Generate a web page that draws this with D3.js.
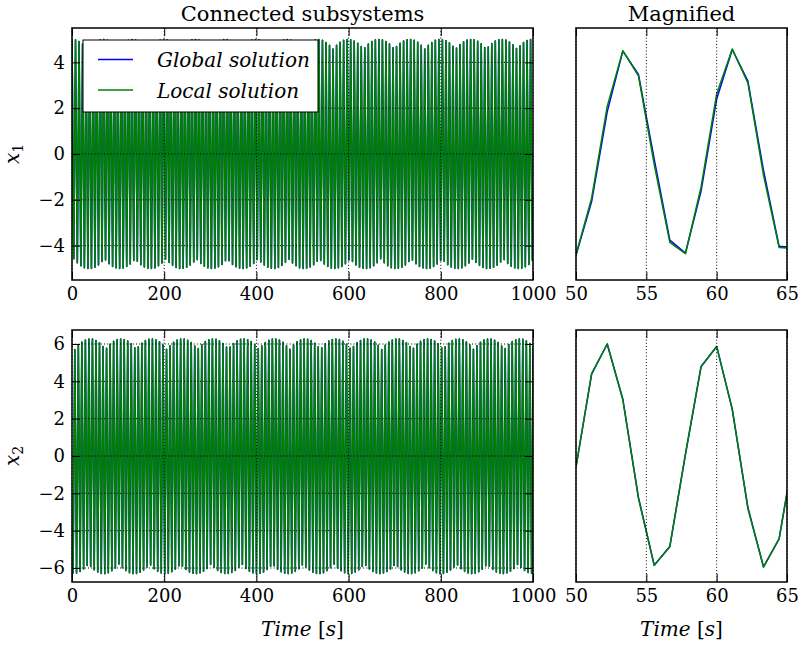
<!DOCTYPE html>
<html><head><meta charset="utf-8">
<script src="https://cdn.jsdelivr.net/npm/d3@7"></script>
<style>
body{margin:0;background:#fff;}
svg{display:block;}
text{font-family:"DejaVu Serif",serif;fill:#000;}
</style></head><body>
<svg id="chart" width="798" height="647"></svg>
<script>
// ---------- data ----------
const cyclePeriod = 7.652;          // seconds between successive peaks
const x1PeakStart = 0.0, x1TroughStart = 3.9;
const x2PeakStart = 6.1, x2TroughStart = 2.25;

const x1Peaks = [
5.00,4.98,4.91,4.80,4.64,4.69,4.83,4.93,4.99,5.00,
4.96,4.88,4.75,4.58,4.74,4.87,4.96,5.00,4.99,4.94,
4.85,4.70,4.62,4.78,4.90,4.97,5.00,4.98,4.92,4.81,
4.65,4.67,4.82,4.93,4.99,5.00,4.97,4.89,4.77,4.60,
4.72,4.86,4.95,5.00,5.00,4.95,4.86,4.72,4.60,4.77,
4.89,4.97,5.00,4.99,4.93,4.82,4.67,4.65,4.81,4.92,
4.98,5.00,4.97,4.90,4.78,4.62,4.70,4.85,4.94,4.99,
5.00,4.96,4.87,4.74,4.58,4.75,4.88,4.96,5.00,4.99,
4.93,4.83,4.69,4.64,4.80,4.91,4.98,
5.00,4.98,4.91,4.80,4.64,4.69,4.83,4.93,4.99,5.00,
4.96,4.88,4.75,4.58,4.74,4.87,4.96,5.00,4.99,4.94,
4.85,4.70,4.62,4.78,4.90,4.97,5.00,4.98,4.92,4.81,
4.65,4.67,4.82,4.93,4.99,5.00,4.97,4.89,4.77,4.60,
4.72,4.86,4.95,5.00];
const x1Troughs = [
-4.57,-4.75,-4.88,-4.96,-5.00,-4.99,-4.94,-4.84,-4.69,-4.63,
-4.79,-4.91,-4.97,-5.00,-4.98,-4.91,-4.80,-4.65,-4.68,-4.83,
-4.93,-4.99,-5.00,-4.97,-4.88,-4.76,-4.59,-4.73,-4.86,-4.95,
-5.00,-4.99,-4.94,-4.85,-4.71,-4.61,-4.78,-4.90,-4.97,-5.00,
-4.98,-4.92,-4.82,-4.66,-4.66,-4.82,-4.92,-4.98,-5.00,-4.97,
-4.90,-4.78,-4.61,-4.71,-4.85,-4.94,-4.99,-5.00,-4.95,-4.86,
-4.73,-4.59,-4.76,-4.88,-4.97,-5.00,-4.99,-4.93,-4.83,-4.68,
-4.65,-4.80,-4.91,-4.98,-5.00,-4.97,-4.91,-4.79,-4.63,-4.69,
-4.84,-4.94,-4.99,-5.00,-4.96,-4.88,-4.75,
-4.57,-4.75,-4.88,-4.96,-5.00,-4.99,-4.94,-4.84,-4.69,-4.63,
-4.79,-4.91,-4.97,-5.00,-4.98,-4.91,-4.80,-4.65,-4.68,-4.83,
-4.93,-4.99,-5.00,-4.97,-4.88,-4.76,-4.59,-4.73,-4.86,-4.95,
-5.00,-4.99,-4.94,-4.85,-4.71,-4.61,-4.78,-4.90,-4.97,-5.00,
-4.98,-4.92,-4.82,-4.66];
const x2Peaks = [
5.70,5.93,6.10,6.21,6.26,6.26,6.19,6.06,5.87,5.77,
5.99,6.14,6.24,6.27,6.24,6.16,6.01,5.80,5.85,6.04,
6.18,6.25,6.27,6.22,6.12,5.95,5.72,5.91,6.09,6.21,
6.26,6.26,6.20,6.08,5.89,5.75,5.97,6.13,6.23,6.27,
6.25,6.17,6.02,5.83,5.83,6.02,6.17,6.25,6.27,6.23,
6.13,5.97,5.75,5.89,6.08,6.20,6.26,6.26,6.21,6.09,
5.91,5.72,5.95,6.12,6.22,6.27,6.25,6.18,6.04,5.85,
5.80,6.01,6.16,6.24,6.27,6.24,6.14,5.99,5.77,5.87,
6.06,6.19,6.26,6.26,6.21,6.10,5.93,
5.70,5.93,6.10,6.21,6.26,6.26,6.19,6.06,5.87,5.77,
5.99,6.14,6.24,6.27,6.24,6.16,6.01,5.80,5.85,6.04,
6.18,6.25,6.27,6.22,6.12,5.95,5.72,5.91,6.09,6.21,
6.26,6.26,6.20,6.08,5.89,5.75,5.97,6.13,6.23,6.27,
6.25,6.17,6.02,5.83];
const x2Troughs = [
-6.30,-6.27,-6.19,-6.05,-5.86,-5.92,-6.10,-6.22,-6.29,-6.30,
-6.25,-6.15,-6.00,-5.79,-5.98,-6.14,-6.25,-6.30,-6.29,-6.23,
-6.11,-5.94,-5.84,-6.04,-6.18,-6.27,-6.30,-6.28,-6.20,-6.07,
-5.88,-5.90,-6.08,-6.21,-6.28,-6.30,-6.26,-6.17,-6.02,-5.81,
-5.96,-6.13,-6.24,-6.29,-6.29,-6.24,-6.13,-5.96,-5.81,-6.02,
-6.17,-6.26,-6.30,-6.28,-6.21,-6.08,-5.90,-5.88,-6.07,-6.20,
-6.28,-6.30,-6.27,-6.18,-6.04,-5.84,-5.94,-6.11,-6.23,-6.29,
-6.30,-6.25,-6.14,-5.98,-5.79,-6.00,-6.15,-6.25,-6.30,-6.29,
-6.22,-6.10,-5.92,-5.86,-6.05,-6.19,-6.27,
-6.30,-6.27,-6.19,-6.05,-5.86,-5.92,-6.10,-6.22,-6.29,-6.30,
-6.25,-6.15,-6.00,-5.79,-5.98,-6.14,-6.25,-6.30,-6.29,-6.23,
-6.11,-5.94,-5.84,-6.04,-6.18,-6.27,-6.30,-6.28,-6.20,-6.07,
-5.88,-5.90,-6.08,-6.21,-6.28,-6.30,-6.26,-6.17,-6.02,-5.81,
-5.96,-6.13,-6.24,-6.29];

// magnified window samples
const magTime     = [50.00,51.11,52.22,53.33,54.44,55.56,56.67,57.78,58.89,60.00,61.11,62.22,63.33,64.44,65.56];
const magX1Global = [-4.42,-2.08,1.85,4.49,3.47,-0.22,-3.76,-4.33,-1.62,2.40,4.56,3.18,-0.72,-4.03,-4.10];
const magX1Local  = [-4.39,-1.93,2.08,4.51,3.41,-0.45,-3.86,-4.35,-1.45,2.62,4.58,3.10,-0.92,-4.08,-4.12];
const magX2Global = [-0.60,4.39,6.00,3.04,-2.22,-5.85,-4.86,0.08,4.78,5.87,2.51,-2.76,-5.94,-4.44,0.45];
const magX2Local  = [-0.57,4.41,6.00,3.01,-2.27,-5.86,-4.84,0.12,4.80,5.87,2.47,-2.81,-5.95,-4.42,0.50];

const fullTicks = [0,200,400,600,800,1000];
const magTicks  = [50,55,60,65];
const x1Ticks   = [-4,-2,0,2,4];
const x2Ticks   = [-6,-4,-2,0,2,4,6];
const titles    = ["Connected subsystems","Magnified"];
const seriesNames = ["Global solution","Local solution"];
const seriesColors = ["#0000ff","#008000"];

// ---------- drawing ----------
const svg = d3.select("#chart");
svg.append("rect").attr("width",798).attr("height",647).attr("fill","#fff");

const fullX = d3.scaleLinear().domain([0,1000]).range([72,533]);
const magX  = d3.scaleLinear().domain([50,65]).range([576,787]);
const yTop  = d3.scaleLinear().domain([-5.5,5.5]).range([280,28]);
const yBot  = d3.scaleLinear().domain([-6.75,6.75]).range([582,330]);

function zigzag(pStart, peaks, tStart, troughs){
  const pts = peaks.map((v,i)=>({t:pStart+i*cyclePeriod, v}))
    .concat(troughs.map((v,i)=>({t:tStart+i*cyclePeriod, v})));
  return pts.sort((a,b)=>a.t-b.t);
}
const x1Zig = zigzag(x1PeakStart, x1Peaks, x1TroughStart, x1Troughs);
const x2Zig = zigzag(x2PeakStart, x2Peaks, x2TroughStart, x2Troughs);
const mag = (vals)=>magTime.map((t,i)=>({t, v:vals[i]}));

const panels = [
  {x:fullX, y:yTop, xt:fullTicks, yt:x1Ticks, series:[x1Zig,x1Zig], full:true},
  {x:magX,  y:yTop, xt:magTicks,  yt:[],      series:[mag(magX1Global),mag(magX1Local)], full:false},
  {x:fullX, y:yBot, xt:fullTicks, yt:x2Ticks, series:[x2Zig,x2Zig], full:true},
  {x:magX,  y:yBot, xt:magTicks,  yt:[],      series:[mag(magX2Global),mag(magX2Local)], full:false}
];

const fmt = d3.format("d");
panels.forEach((p,pi)=>{
  const [x0,x1] = p.x.range(), [yb,yt] = p.y.range();
  const cid = "clip"+pi;
  svg.append("clipPath").attr("id",cid).append("rect")
    .attr("x",x0).attr("y",yt).attr("width",x1-x0).attr("height",yb-yt);
  const g = svg.append("g");
  const line = d3.line().x(d=>p.x(d.t)).y(d=>p.y(d.v));
  const lg = g.append("g").attr("clip-path",`url(#${cid})`);
  p.series.forEach((s,si)=>{
    lg.append("path").attr("d",line(s)).attr("fill","none")
      .attr("stroke",seriesColors[si]).attr("stroke-width",p.full?1.6:1.5)
      .attr("stroke-linejoin","round");
  });
  // grid (dotted, above data)
  const grid = g.append("g").attr("stroke","#000").attr("stroke-width",1)
    .attr("stroke-dasharray","1,2.2");
  p.xt.forEach(v=>{
    grid.append("line").attr("x1",p.x(v)).attr("x2",p.x(v)).attr("y1",yt).attr("y2",yb);
  });
  p.yt.forEach(v=>{
    grid.append("line").attr("x1",x0).attr("x2",x1).attr("y1",p.y(v)).attr("y2",p.y(v));
  });
  // axes with inward ticks
  const ab = g.append("g").attr("transform",`translate(0,${yb})`)
    .call(d3.axisBottom(p.x).tickValues(p.xt).tickSize(-8).tickPadding(7).tickFormat(fmt));
  const at = g.append("g").attr("transform",`translate(0,${yt})`)
    .call(d3.axisTop(p.x).tickValues(p.xt).tickSize(-8).tickFormat(""));
  const axes = [ab,at];
  if(p.full){
    axes.push(g.append("g").attr("transform",`translate(${x0},0)`)
      .call(d3.axisLeft(p.y).tickValues(p.yt).tickSize(-8).tickPadding(7).tickFormat(fmt)));
    axes.push(g.append("g").attr("transform",`translate(${x1},0)`)
      .call(d3.axisRight(p.y).tickValues(p.yt).tickSize(-8).tickFormat("")));
  }
  axes.forEach(a=>{
    a.select(".domain").remove();
    a.attr("font-family",null).attr("font-size",null);
    a.selectAll("line").attr("stroke","#000").attr("stroke-width",1);
    a.selectAll("text").attr("font-size",18).attr("fill","#000");
  });
  g.append("rect").attr("x",x0).attr("y",yt).attr("width",x1-x0).attr("height",yb-yt)
    .attr("fill","none").attr("stroke","#000").attr("stroke-width",1.5);
});

// titles
svg.append("text").attr("x",302.5).attr("y",21).attr("text-anchor","middle")
  .attr("font-size",21).text(titles[0]);
svg.append("text").attr("x",681.5).attr("y",21).attr("text-anchor","middle")
  .attr("font-size",21).text(titles[1]);

// y labels
function ylab(cy, sub){
  const t = svg.append("text").attr("transform",`translate(19,${cy}) rotate(-90)`)
    .attr("text-anchor","middle").attr("font-size",20);
  t.append("tspan").attr("font-style","italic").text("x");
  t.append("tspan").attr("font-size",14).attr("dy",4).text(sub);
}
ylab(154,"1");
ylab(456,"2");

// x labels
function xlab(cx){
  const t = svg.append("text").attr("x",cx).attr("y",636).attr("text-anchor","middle").attr("font-size",20);
  t.append("tspan").attr("font-style","italic").text("Time");
  t.append("tspan").text(" [");
  t.append("tspan").attr("font-style","italic").text("s");
  t.append("tspan").text("]");
}
xlab(302.5);
xlab(681.5);

// legend
const leg = svg.append("g");
leg.append("rect").attr("x",83).attr("y",40).attr("width",235).attr("height",72)
  .attr("fill","#fff").attr("stroke","#000").attr("stroke-width",1);
seriesNames.forEach((n,i)=>{
  const yy = 59.5 + i*30.5;
  leg.append("line").attr("x1",98).attr("x2",133).attr("y1",yy).attr("y2",yy)
    .attr("stroke",seriesColors[i]).attr("stroke-width",1.4);
  leg.append("text").attr("x",157).attr("y",yy+7.5).attr("font-size",20)
    .attr("font-style","italic").text(n);
});
</script>
</body></html>
